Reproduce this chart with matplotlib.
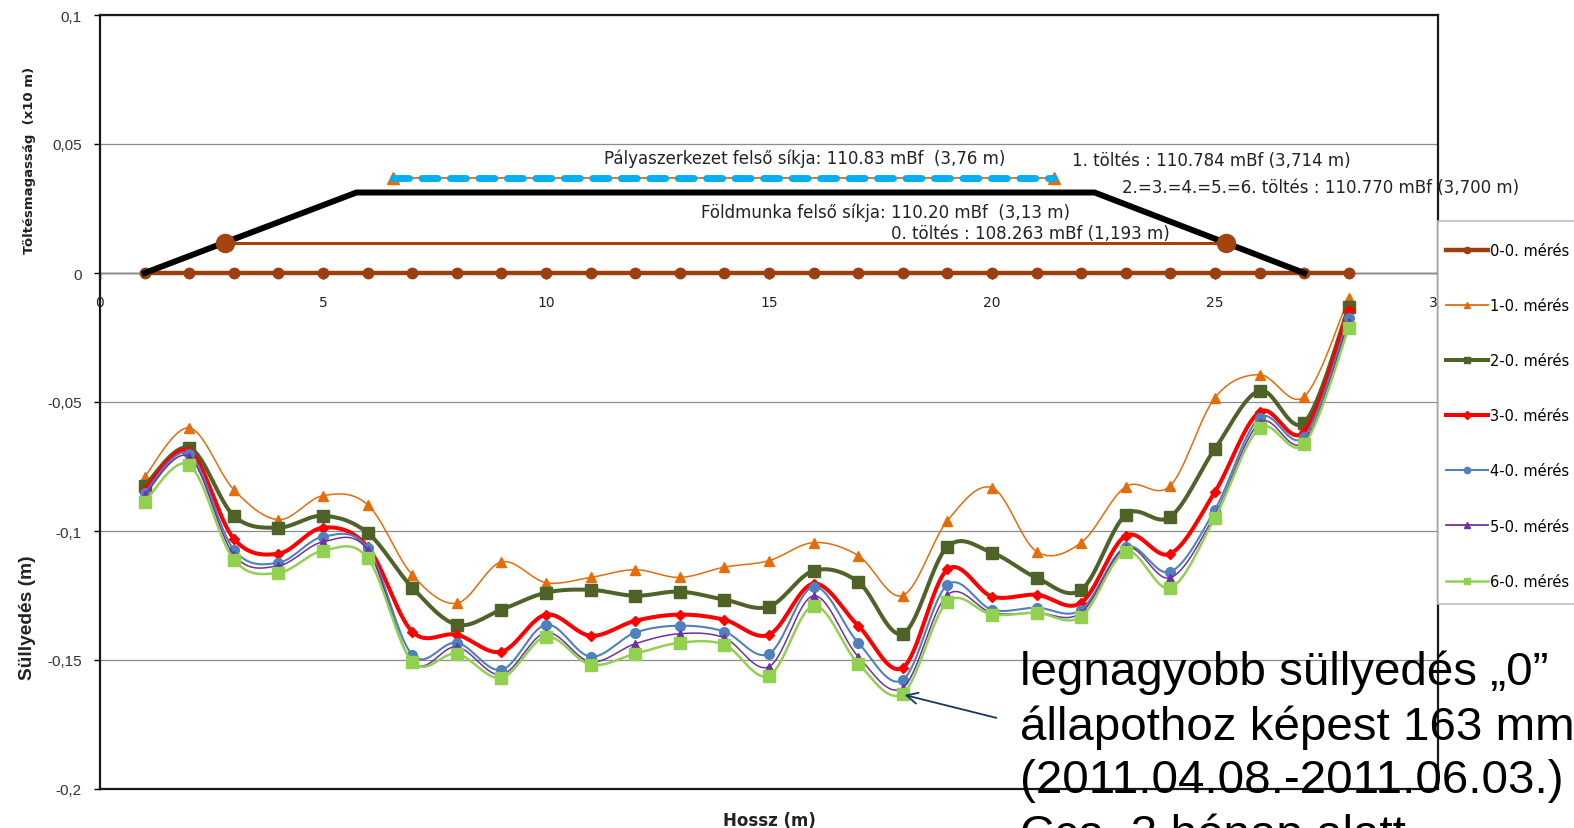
import numpy as np
import matplotlib.pyplot as plt
from matplotlib.lines import Line2D
from matplotlib.patches import Rectangle

# measuring points along the embankment (m)
hossz = list(range(1, 29))

# settlement relative to the "0" state (m)
meres_0 = [0.0] * 28
meres_1 = [-0.0790, -0.0600, -0.0840, -0.0956, -0.0863, -0.0898, -0.1170, -0.1280, -0.1120, -0.1200,
           -0.1180, -0.1150, -0.1180, -0.1140, -0.1115, -0.1045, -0.1095, -0.1250, -0.0960, -0.0832,
           -0.1080, -0.1045, -0.0828, -0.0824, -0.0483, -0.0394, -0.0479, -0.0096]
meres_2 = [-0.0825, -0.0677, -0.0941, -0.0987, -0.0941, -0.1007, -0.1219, -0.1363, -0.1305, -0.1239,
           -0.1228, -0.1251, -0.1235, -0.1266, -0.1293, -0.1154, -0.1197, -0.1398, -0.1061, -0.1084,
           -0.1181, -0.1228, -0.0937, -0.0945, -0.0681, -0.0456, -0.0580, -0.0131]
meres_3 = [-0.0840, -0.0689, -0.1030, -0.1088, -0.0987, -0.1061, -0.1390, -0.1402, -0.1468, -0.1324,
           -0.1406, -0.1348, -0.1324, -0.1344, -0.1402, -0.1204, -0.1367, -0.1530, -0.1149, -0.1254,
           -0.1247, -0.1278, -0.1018, -0.1088, -0.0848, -0.0538, -0.0615, -0.0142]
meres_4 = [-0.0852, -0.0701, -0.1072, -0.1123, -0.1022, -0.1065, -0.1480, -0.1433, -0.1538, -0.1363,
           -0.1487, -0.1394, -0.1367, -0.1390, -0.1476, -0.1216, -0.1433, -0.1577, -0.1208, -0.1305,
           -0.1297, -0.1305, -0.1061, -0.1158, -0.0917, -0.0561, -0.0635, -0.0173]
meres_5 = [-0.0860, -0.0712, -0.1092, -0.1135, -0.1042, -0.1073, -0.1507, -0.1449, -0.1557, -0.1394,
           -0.1507, -0.1437, -0.1398, -0.1414, -0.1526, -0.1251, -0.1487, -0.1608, -0.1247, -0.1317,
           -0.1317, -0.1317, -0.1065, -0.1181, -0.0937, -0.0580, -0.0654, -0.0189]
meres_6 = [-0.0887, -0.0743, -0.1111, -0.1162, -0.1076, -0.1104, -0.1507, -0.1476, -0.1569, -0.1410,
           -0.1518, -0.1476, -0.1433, -0.1441, -0.1561, -0.1290, -0.1514, -0.1630, -0.1274, -0.1324,
           -0.1317, -0.1332, -0.1080, -0.1220, -0.0948, -0.0601, -0.0663, -0.0212]

meres_nevek = ['0-0. mérés', '1-0. mérés', '2-0. mérés', '3-0. mérés',
               '4-0. mérés', '5-0. mérés', '6-0. mérés']

# embankment cross-section (x10 m)
foldmunka_x = [1, 5.75, 22.3, 27]
foldmunka_y = [0, 0.0312, 0.0312, 0]
toltes0_x = [2.8, 25.25]
toltes0_y = [0.0118, 0.0118]
palya_x = [6.56, 21.4]
palya_y = [0.037, 0.037]

y_ticks = [-0.2, -0.15, -0.1, -0.05, 0, 0.05, 0.1]
y_ticklabels = ['-0,2', '-0,15', '-0,1', '-0,05', '0', '0,05', '0,1']
x_ticks = [0, 5, 10, 15, 20, 25, 30]

styles = [
    dict(color='#9c3f0f', lw=3.2, marker='o', ms=7.5),
    dict(color='#e46c0a', lw=1.1, marker='^', ms=7.5),
    dict(color='#4f6228', lw=2.9, marker='s', ms=8),
    dict(color='#ff0000', lw=2.9, marker='D', ms=5),
    dict(color='#4f81bd', lw=1.5, marker='o', ms=7),
    dict(color='#7030a0', lw=1.1, marker='^', ms=5.5),
    dict(color='#92d050', lw=1.8, marker='s', ms=8),
]


def smooth(x, y, n=16):
    # Excel-like smoothed line (Catmull-Rom bezier through the points)
    x = np.asarray(x, float)
    y = np.asarray(y, float)
    px = np.concatenate([[x[0]], x, [x[-1]]])
    py = np.concatenate([[y[0]], y, [y[-1]]])
    t = np.linspace(0, 1, n, endpoint=False)
    xs, ys = [], []
    for i in range(1, len(px) - 2):
        for arr, out in ((px, xs), (py, ys)):
            p0, p1, p2, p3 = arr[i - 1], arr[i], arr[i + 1], arr[i + 2]
            c1 = p1 + (p2 - p0) / 6
            c2 = p2 - (p3 - p1) / 6
            out.extend((1 - t) ** 3 * p1 + 3 * (1 - t) ** 2 * t * c1 + 3 * (1 - t) * t ** 2 * c2 + t ** 3 * p2)
    xs.append(x[-1])
    ys.append(y[-1])
    return np.array(xs), np.array(ys)


W, H = 1574, 829
fig = plt.figure(figsize=(W / 100, H / 100), dpi=100)
ax = fig.add_axes([100 / W, 1 - 790 / H, 1338 / W, 774 / H])
ax.set_xlim(0, 30)
ax.set_ylim(-0.2, 0.1)

# settlement curves
series = [meres_0, meres_1, meres_2, meres_3, meres_4, meres_5, meres_6]
handles = []
for vals, st, name in zip(series, styles, meres_nevek):
    sx, sy = smooth(hossz, vals)
    ax.plot(sx, sy, color=st['color'], lw=st['lw'], solid_capstyle='round', zorder=3)
    ax.plot(hossz, vals, ls='none', marker=st['marker'], ms=st['ms'],
            color=st['color'], mec=st['color'], zorder=3)
    handles.append(Line2D([], [], color=st['color'], lw=max(st['lw'], 1.3),
                          marker=st['marker'], ms=4.5, label=name))

# embankment shape
ax.plot(foldmunka_x, foldmunka_y, color='black', lw=4.3, zorder=4)
ax.plot(toltes0_x, toltes0_y, color='#a3440f', lw=2.2, marker='o', ms=13, zorder=5)
ax.plot(palya_x, palya_y, color='#e46c0a', lw=1.3, marker='^', ms=9, zorder=5)
ax.plot(palya_x, palya_y, color='#00b0f0', lw=5, dashes=(2.3, 1.8),
        dash_capstyle='round', zorder=6)

txt = dict(fontsize=12, color='#222222', va='center', ha='left', zorder=7)
ax.text(11.30, 0.0445, 'Pályaszerkezet felső síkja: 110.83 mBf  (3,76 m)', **txt)
ax.text(21.79, 0.0437, '1. töltés : 110.784 mBf (3,714 m)', **txt)
ax.text(22.91, 0.0334, '2.=3.=4.=5.=6. töltés : 110.770 mBf (3,700 m)', **txt)
ax.text(13.48, 0.0238, 'Földmunka felső síkja: 110.20 mBf  (3,13 m)', **txt)
ax.text(17.74, 0.0156, '0. töltés : 108.263 mBf (1,193 m)', **txt)

# axes styling
ax.set_yticks(y_ticks)
ax.set_yticklabels(y_ticklabels, family='Liberation Sans', fontsize=11, color='#333333')
ax.tick_params(axis='y', length=4, width=1, pad=9)
ax.set_xticks([])
ax.yaxis.grid(True, color='#8c8c8c', lw=0.9)
ax.set_axisbelow(True)
for sp in ax.spines.values():
    sp.set_linewidth(1.6)
    sp.set_color('#1a1a1a')

# x axis crossing at y = 0
sec = ax.secondary_xaxis((0 - (-0.2)) / 0.3)
sec.set_alignment('bottom')
sec.set_xticks(x_ticks)
sec.set_xticklabels([str(v) for v in x_ticks])
sec.tick_params(length=4, width=1, pad=12, labelsize=10, labelcolor='#222222')
sec.spines['bottom'].set_linewidth(1.0)
sec.spines['bottom'].set_color('black')

ax.set_xlabel('Hossz (m)', fontsize=12, fontweight='bold', labelpad=16, color='#222222')
fig.text(30 / W, 1 - 160 / H, 'Töltésmagasság  (x10 m)', rotation=90, ha='center', va='center',
         fontsize=9.5, fontweight='bold', color='#222222')
fig.text(27 / W, 1 - 618 / H, 'Süllyedés (m)', rotation=90, ha='center', va='center',
         family='Liberation Sans', fontsize=13.8, fontweight='bold', color='#222222')

# legend box
fig.patches.append(Rectangle((1438 / W, 1 - 605 / H), 0.1, 383 / H, transform=fig.transFigure,
                             facecolor='white', edgecolor='#bfbfbf', lw=1.2, zorder=10))
leg = fig.legend(handles=handles, loc='upper left', bbox_to_anchor=(1446 / W, 1 - 244 / H),
                 frameon=False, fontsize=10.5, handlelength=2.9, handletextpad=0.15,
                 labelspacing=2.75, borderpad=0, borderaxespad=0)
leg.set_zorder(11)

# annotation of the largest settlement
ax.annotate('', xy=(17.98, -0.1633), xytext=(20.16, -0.1727),
            arrowprops=dict(arrowstyle='->,head_length=0.8,head_width=0.4', color='#17375e', lw=1.3),
            zorder=8)
# va='baseline' aligns the last line, so anchor on the 4th baseline
fig.text(1020 / W, 1 - (677 + 3 * 57) / H,
         'legnagyobb süllyedés „0”\nállapothoz képest 163 mm\n(2011.04.08.-2011.06.03.)\nCca. 3 hónap alatt',
         family='Liberation Sans', fontsize=34.2, linespacing=1.29, va='baseline', ha='left',
         color='black', zorder=12)

fig.savefig('out.png', dpi=100)
